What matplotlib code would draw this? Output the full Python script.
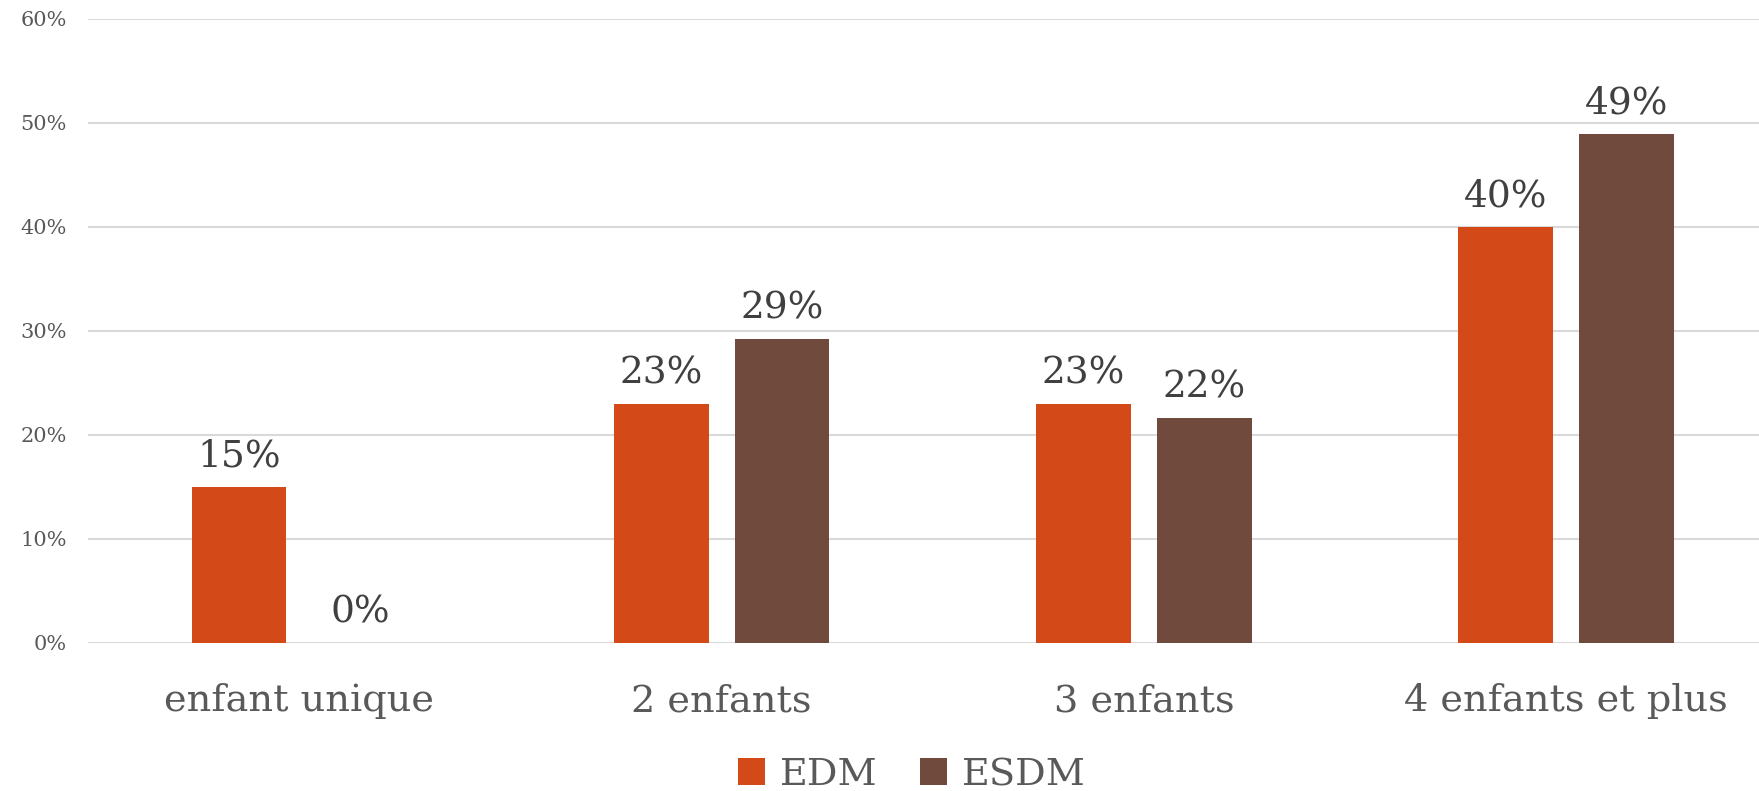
import matplotlib
matplotlib.use("Agg")
import matplotlib.pyplot as plt
import numpy as np

# donnees
categories = ["enfant unique", "2 enfants", "3 enfants", "4 enfants et plus"]
series = ["EDM", "ESDM"]
edm = [15, 23, 23, 40]
esdm = [0, 29.2, 21.6, 48.9]
couleurs = ["#D34A18", "#6F4A3D"]

plt.rcParams["font.family"] = ["DejaVu Serif"]

fig = plt.figure(figsize=(17.59, 7.91), dpi=100)
ax = fig.add_axes([87.5 / 1759, 1 - 643 / 791, 1 - 87.5 / 1759, (643 - 19) / 791])

x = np.arange(len(categories))
largeur = 0.224
decalage = 0.143
barres = []
for i, (vals, nom) in enumerate(zip([edm, esdm], series)):
    b = ax.bar(x + (2 * i - 1) * decalage, vals, largeur, color=couleurs[i], label=nom, zorder=3)
    barres.append(b)
    for rect, v in zip(b, vals):
        ax.annotate("{:.0f}%".format(v), (rect.get_x() + rect.get_width() / 2, rect.get_height()),
                    xytext=(0, 9), textcoords="offset points", ha="center", va="bottom",
                    fontsize=27, color="#404040")

ax.set_xlim(-0.502, 3.457)
ax.set_ylim(0, 60)
ax.set_yticks(range(0, 61, 10))
ax.set_yticklabels(["{}%".format(v) for v in range(0, 61, 10)], fontsize=15, color="#595959")
ax.set_xticks(x)
ax.set_xticklabels(categories, fontsize=27.5, color="#595959")
ax.tick_params(axis="both", length=0)
ax.tick_params(axis="y", pad=15)
ax.tick_params(axis="x", pad=29)
ax.grid(axis="y", color="#d9d9d9", linewidth=1.5, zorder=0)
for s in ax.spines.values():
    s.set_visible(False)

fig.legend(handles=barres, labels=series, loc="center", bbox_to_anchor=(912 / 1759, 1 - 775 / 791),
           ncol=2, frameon=False, fontsize=27.5, handlelength=0.7, handleheight=0.7,
           handletextpad=0.4, columnspacing=1.1, labelcolor="#595959")

fig.savefig("out.png", dpi=100)
